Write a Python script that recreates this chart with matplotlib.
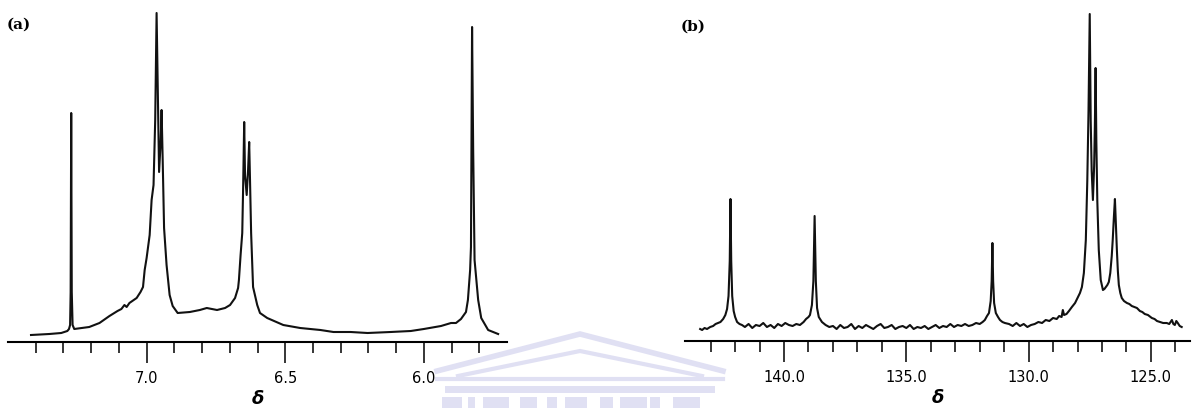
import numpy as np
import matplotlib.pyplot as plt
from matplotlib.patches import Rectangle

# (a) 1H spectrum, (delta, intensity)
h1_trace = [
    (7.417, 7), (7.351, 8), (7.308, 9), (7.286, 11), (7.280, 13), (7.276, 17),
    (7.274, 50), (7.272, 229), (7.270, 50), (7.267, 17), (7.261, 13),
    (7.207, 15), (7.170, 19), (7.134, 26), (7.105, 31), (7.091, 33), (7.080, 37),
    (7.072, 35), (7.062, 39), (7.036, 44), (7.022, 50), (7.013, 55), (7.007, 72),
    (7.000, 84), (6.989, 107), (6.982, 142), (6.975, 157), (6.969, 222),
    (6.964, 329), (6.958, 222), (6.955, 170), (6.949, 202), (6.946, 232),
    (6.942, 182), (6.937, 114), (6.928, 77), (6.917, 47), (6.906, 36),
    (6.888, 29), (6.844, 30), (6.808, 32), (6.783, 34), (6.746, 32), (6.717, 34),
    (6.699, 37), (6.681, 44), (6.670, 54), (6.667, 62), (6.661, 87), (6.655, 109),
    (6.652, 152), (6.648, 220), (6.645, 167), (6.639, 147), (6.634, 172),
    (6.630, 200), (6.627, 162), (6.623, 109), (6.616, 55), (6.601, 37),
    (6.591, 29), (6.565, 24), (6.507, 17), (6.446, 14), (6.373, 12), (6.326, 10),
    (6.264, 10), (6.203, 9), (6.120, 10), (6.047, 11), (6.000, 13), (5.938, 16),
    (5.902, 19), (5.884, 19), (5.866, 23), (5.848, 30), (5.841, 42), (5.833, 72),
    (5.830, 95), (5.826, 315), (5.822, 192), (5.817, 82), (5.804, 42),
    (5.793, 24), (5.768, 12), (5.732, 8),
]

# (b) 13C spectrum
c13_trace = [
    (143.43, 12), (143.35, 11), (143.25, 13), (143.15, 12), (143.02, 14),
    (142.90, 15), (142.80, 17), (142.70, 18), (142.60, 19), (142.49, 22),
    (142.40, 26), (142.33, 32), (142.27, 45), (142.22, 80), (142.19, 142),
    (142.16, 80), (142.12, 45), (142.06, 30), (142.00, 24), (141.92, 19),
    (141.82, 17), (141.72, 16),
    (141.60, 14), (141.45, 17), (141.30, 13), (141.15, 16), (141.00, 15),
    (140.85, 18), (140.70, 14), (140.55, 16), (140.40, 13), (140.25, 17),
    (140.10, 15), (139.95, 18), (139.80, 16), (139.65, 15), (139.50, 17),
    (139.35, 16), (139.20, 19),
    (139.10, 22), (139.00, 24), (138.94, 26), (138.86, 36), (138.80, 60),
    (138.75, 125), (138.70, 60), (138.65, 33), (138.58, 24), (138.45, 19),
    (138.30, 16), (138.15, 14),
    (138.00, 15), (137.85, 12), (137.70, 16), (137.55, 13), (137.40, 14),
    (137.25, 17), (137.10, 12), (136.95, 15), (136.80, 13), (136.65, 16),
    (136.50, 14), (136.35, 12), (136.20, 15), (136.05, 17), (135.90, 13),
    (135.75, 14), (135.60, 16), (135.45, 12), (135.30, 14), (135.15, 15),
    (135.00, 13), (134.85, 16), (134.70, 12), (134.55, 14), (134.40, 13),
    (134.25, 15), (134.10, 12), (133.95, 14), (133.80, 16), (133.65, 13),
    (133.50, 15), (133.35, 14), (133.20, 17), (133.05, 14), (132.90, 16),
    (132.75, 15), (132.60, 17), (132.45, 15), (132.30, 16), (132.15, 18),
    (132.00, 17),
    (131.88, 19), (131.79, 21), (131.70, 25), (131.62, 28), (131.55, 40),
    (131.51, 60), (131.48, 98), (131.45, 60), (131.41, 38), (131.34, 28),
    (131.25, 24), (131.17, 21), (131.07, 19), (130.97, 18),
    (130.80, 17), (130.65, 15), (130.50, 18), (130.35, 15), (130.20, 17),
    (130.05, 14), (129.90, 16), (129.75, 17), (129.60, 19), (129.45, 18),
    (129.30, 21), (129.15, 20), (129.00, 23), (128.85, 22), (128.75, 25),
    (128.65, 24), (128.60, 31), (128.55, 26), (128.45, 27), (128.35, 30),
    (128.23, 34), (128.10, 38), (127.98, 44), (127.90, 48), (127.82, 54),
    (127.74, 68), (127.66, 101), (127.60, 160), (127.55, 230), (127.50, 327),
    (127.46, 220), (127.42, 170), (127.37, 141), (127.32, 175), (127.29, 215),
    (127.26, 273), (127.23, 200), (127.19, 140), (127.13, 91), (127.05, 61),
    (126.96, 51), (126.90, 52), (126.84, 54), (126.78, 56), (126.72, 59),
    (126.66, 68), (126.60, 85), (126.56, 101), (126.51, 125), (126.47, 142),
    (126.43, 115), (126.39, 91), (126.35, 70), (126.31, 56), (126.25, 48),
    (126.19, 43), (126.10, 40), (125.98, 38), (125.88, 37), (125.78, 35),
    (125.68, 34), (125.57, 33), (125.45, 30), (125.35, 29), (125.25, 27),
    (125.12, 26), (124.96, 23), (124.85, 22), (124.75, 20), (124.63, 19),
    (124.50, 18), (124.35, 18), (124.25, 17), (124.14, 21), (124.08, 17),
    (124.02, 16), (123.96, 20), (123.90, 18), (123.82, 15), (123.74, 14),
]

h1_major = [7.0, 6.5, 6.0]
h1_labels = ['7.0', '6.5', '6.0']
h1_minor = [7.4, 7.3, 7.2, 7.1, 6.9, 6.8, 6.7, 6.6, 6.4, 6.3, 6.2, 6.1, 5.9, 5.8]
c13_major = [140, 135, 130, 125]
c13_labels = ['140.0', '135.0', '130.0', '125.0']
c13_minor = [143, 142, 141, 139, 138, 137, 136, 134, 133, 132, 131,
             129, 128, 127, 126, 124]

W, H = 1193, 408
fig = plt.figure(figsize=(W / 100, H / 100), dpi=100)

# faint watermark behind everything (pixel coords)
bg = fig.add_axes([0, 0, 1, 1], zorder=-1)
bg.set_xlim(0, W)
bg.set_ylim(H, 0)
bg.axis('off')
wm = '#e0e0f3'
bg.plot([437, 580, 723], [371, 334, 371], color=wm, lw=4, solid_joinstyle='miter')
bg.plot([458, 580, 702], [376, 351, 376], color=wm, lw=3, solid_joinstyle='miter')
bg.plot([437, 723], [379, 379], color=wm, lw=3)
bg.add_patch(Rectangle((445, 386), 270, 7, color=wm, lw=0))
for cx, cw in [(442, 20), (468, 7), (483, 26), (520, 17), (547, 10), (565, 22),
               (600, 13), (620, 27), (650, 10), (673, 27)]:
    bg.add_patch(Rectangle((cx, 397), cw, 12, color=wm, lw=0))


def make_axes(x0, x1, y_axis, y_top):
    ax = fig.add_axes([x0 / W, 1 - y_axis / H, (x1 - x0) / W, (y_axis - y_top) / H])
    ax.set_facecolor('none')
    for s in ['top', 'left', 'right']:
        ax.spines[s].set_visible(False)
    ax.spines['bottom'].set_linewidth(1.5)
    ax.set_yticks([])
    ax.set_ylim(0, y_axis - y_top)
    ax.tick_params(axis='x', which='major', direction='out', length=15, width=1.1,
                   pad=6, labelsize=10.5)
    ax.tick_params(axis='x', which='minor', direction='out', length=8, width=1.1)
    return ax


# (a)
ax1 = make_axes(8, 507, 342, 10)
d, y = np.array(h1_trace).T
ax1.plot(d, y, color='#111111', lw=1.5)
ax1.set_xlim(7.5, 5.7)
ax1.set_xticks(h1_major)
ax1.set_xticklabels(h1_labels)
ax1.set_xticks(h1_minor, minor=True)
ax1.set_xlabel('δ', fontsize=13, fontstyle='italic', fontweight='bold', labelpad=3)

# (b)
ax2 = make_axes(685, 1190, 341, 10)
d, y = np.array(c13_trace).T
ax2.plot(d, y, color='#111111', lw=1.5)
ax2.set_xlim(144.05, 123.4)
ax2.set_xticks(c13_major)
ax2.set_xticklabels(c13_labels)
ax2.set_xticks(c13_minor, minor=True)
ax2.set_xlabel('δ', fontsize=13, fontstyle='italic', fontweight='bold', labelpad=3)

fig.text(7 / W, 1 - 25 / H, '(a)', fontsize=11, family='DejaVu Serif', va='center',
         fontweight='bold')
fig.text(681 / W, 1 - 27 / H, '(b)', fontsize=11, family='DejaVu Serif', va='center',
         fontweight='bold')

fig.savefig('out.png', dpi=100)
